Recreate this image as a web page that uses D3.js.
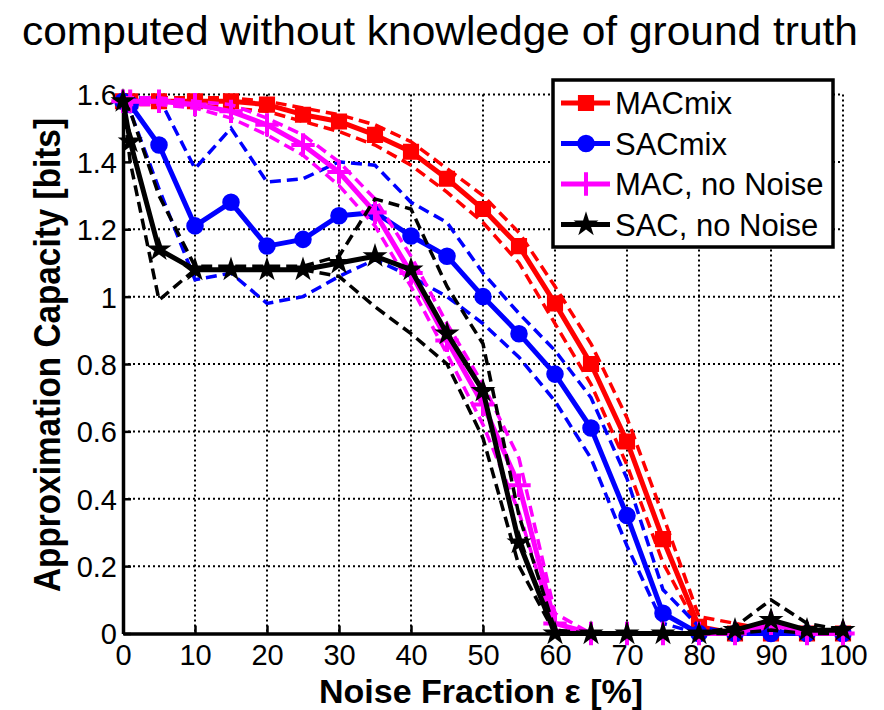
<!DOCTYPE html>
<html>
<head>
<meta charset="utf-8">
<script src="https://cdn.jsdelivr.net/npm/d3@7"></script>
<style>
  body { margin: 0; background: #fff; }
  svg { display: block; font-family: Arial, 'Liberation Sans', sans-serif; }
</style>
</head>
<body>
<div id="chart"></div>
<script>
'use strict';

// noise fraction in percent
var noise = [0, 1, 5, 10, 15, 20, 25, 30, 35, 40, 45, 50, 55, 60, 65, 70, 75, 80, 85, 90, 95, 100];

// MACmix
var macMix   = [1.58, 1.58, 1.58, 1.58, 1.58, 1.57, 1.54, 1.52, 1.48, 1.43, 1.35, 1.26, 1.15, 0.98, 0.80, 0.57, 0.28, 0.02, 0.00, 0.00, 0.00, 0.00];
var macMixHi = [1.59, 1.59, 1.59, 1.59, 1.59, 1.58, 1.56, 1.54, 1.51, 1.46, 1.38, 1.30, 1.19, 1.03, 0.86, 0.64, 0.35, 0.05, 0.03, 0.01, 0.01, 0.01];
var macMixLo = [1.58, 1.57, 1.57, 1.57, 1.56, 1.55, 1.52, 1.49, 1.45, 1.39, 1.31, 1.22, 1.10, 0.92, 0.74, 0.50, 0.21, 0.01, 0.00, 0.00, 0.00, 0.00];

// SACmix
var sacMix   = [1.58, 1.57, 1.45, 1.21, 1.28, 1.15, 1.17, 1.24, 1.25, 1.18, 1.12, 1.00, 0.89, 0.77, 0.61, 0.35, 0.06, 0.00, 0.00, 0.00, 0.00, 0.00];
var sacMixHi = [1.58, 1.59, 1.59, 1.38, 1.50, 1.34, 1.35, 1.40, 1.39, 1.28, 1.22, 1.07, 0.95, 0.84, 0.70, 0.46, 0.13, 0.02, 0.00, 0.01, 0.00, 0.00];
var sacMixLo = [1.58, 1.55, 1.32, 1.05, 1.07, 0.98, 1.00, 1.06, 1.11, 1.06, 1.00, 0.92, 0.82, 0.69, 0.52, 0.26, 0.03, 0.00, 0.00, 0.00, 0.00, 0.00];

// MAC, no Noise
var macNo   = [1.58, 1.58, 1.58, 1.57, 1.55, 1.51, 1.45, 1.37, 1.25, 1.07, 0.87, 0.68, 0.44, 0.03, 0.00, 0.00, 0.00, 0.00, 0.00, 0.03, 0.00, 0.00];
var macNoHi = [1.59, 1.59, 1.59, 1.58, 1.57, 1.53, 1.48, 1.40, 1.29, 1.12, 0.92, 0.74, 0.52, 0.06, 0.00, 0.00, 0.00, 0.00, 0.00, 0.04, 0.01, 0.00];
var macNoLo = [1.58, 1.57, 1.57, 1.56, 1.53, 1.48, 1.42, 1.33, 1.21, 1.03, 0.83, 0.62, 0.36, 0.01, 0.00, 0.00, 0.00, 0.00, 0.00, 0.02, 0.00, 0.00];

// SAC, no Noise
var sacNo   = [1.58, 1.46, 1.14, 1.08, 1.08, 1.08, 1.08, 1.10, 1.12, 1.08, 0.89, 0.72, 0.27, 0.00, 0.00, 0.00, 0.00, 0.00, 0.01, 0.04, 0.01, 0.01];
var sacNoHi = [1.58, 1.55, 1.30, 1.09, 1.09, 1.09, 1.09, 1.12, 1.29, 1.26, 1.03, 0.86, 0.35, 0.01, 0.00, 0.00, 0.00, 0.00, 0.02, 0.10, 0.03, 0.01];
var sacNoLo = [1.58, 1.40, 0.99, 1.08, 1.08, 1.08, 1.08, 1.06, 0.97, 0.89, 0.80, 0.58, 0.20, 0.00, 0.00, 0.00, 0.00, 0.00, 0.00, 0.01, 0.00, 0.00];

var xTicks = [0, 10, 20, 30, 40, 50, 60, 70, 80, 90, 100];
var yTicks = [0, 0.2, 0.4, 0.6, 0.8, 1, 1.2, 1.4, 1.6];

var series = [
  { name: 'MACmix',        color: '#ff0000', marker: 'square', mean: macMix, hi: macMixHi, lo: macMixLo },
  { name: 'SACmix',        color: '#0000ff', marker: 'circle', mean: sacMix, hi: sacMixHi, lo: sacMixLo },
  { name: 'MAC, no Noise', color: '#ff00ff', marker: 'plus',   mean: macNo,  hi: macNoHi,  lo: macNoLo },
  { name: 'SAC, no Noise', color: '#000000', marker: 'star',   mean: sacNo,  hi: sacNoHi,  lo: sacNoLo }
];

var width = 884,
    height = 710,
    plotL = 123, plotR = 843, plotT = 94.5, plotB = 633.5;

var x = d3.scaleLinear().domain([0, 100]).range([plotL, plotR]);
var y = d3.scaleLinear().domain([0, 1.6]).range([plotB, plotT]);

var svg = d3.select('#chart').append('svg')
    .attr('width', width)
    .attr('height', height);

// title
svg.append('text')
    .attr('x', 440).attr('y', 45)
    .attr('text-anchor', 'middle')
    .attr('font-size', 40)
    .attr('textLength', 836)
    .attr('lengthAdjust', 'spacingAndGlyphs')
    .text('computed without knowledge of ground truth');

// dotted grid
var grid = svg.append('g').attr('stroke', '#000').attr('stroke-width', 2).attr('stroke-dasharray', '2,3');
grid.selectAll('.vx').data(xTicks.slice(1)).enter().append('line')
    .attr('x1', function(d) { return x(d); }).attr('x2', function(d) { return x(d); })
    .attr('y1', plotT).attr('y2', plotB);
grid.selectAll('.hy').data(yTicks.slice(1)).enter().append('line')
    .attr('x1', plotL).attr('x2', plotR)
    .attr('y1', function(d) { return y(d); }).attr('y2', function(d) { return y(d); });

// axes
var fmt = d3.format('~g');
var yAxis = svg.append('g')
    .attr('transform', 'translate(' + plotL + ',0)')
    .call(d3.axisLeft(y).tickValues(yTicks).tickSizeInner(-8).tickSizeOuter(0).tickPadding(6)
      .tickFormat(function(d) { return fmt(+d.toFixed(1)); }));
var xAxis = svg.append('g')
    .attr('transform', 'translate(0,' + plotB + ')')
    .call(d3.axisBottom(x).tickValues(xTicks).tickSizeInner(-8).tickSizeOuter(0).tickPadding(11));

[yAxis, xAxis].forEach(function(ax) {
  ax.select('.domain').attr('stroke-width', 3.5);
  ax.selectAll('.tick line').attr('stroke-width', 2.5);
  ax.selectAll('.tick text').attr('font-size', 29).attr('font-family', 'Arial, Liberation Sans, sans-serif').attr('fill', '#000');
});
yAxis.selectAll('.tick text').attr('dy', '0.36em');

// axis labels
svg.append('text')
    .attr('transform', 'translate(60,355) rotate(-90)')
    .attr('text-anchor', 'middle')
    .attr('font-size', 36).attr('font-weight', 'bold')
    .attr('textLength', 474).attr('lengthAdjust', 'spacingAndGlyphs')
    .text('Approximation Capacity [bits]');

svg.append('text')
    .attr('x', 481).attr('y', 703)
    .attr('text-anchor', 'middle')
    .attr('font-size', 34).attr('font-weight', 'bold')
    .text('Noise Fraction ε [%]');

// data
var line = d3.line()
    .x(function(d, i) { return x(noise[i]); })
    .y(function(d) { return y(d); });

function symbolFor(s) {
  if (s.marker === 'square') return d3.symbol().type(d3.symbolSquare).size(200)();
  if (s.marker === 'circle') return d3.symbol().type(d3.symbolCircle).size(190)();
  if (s.marker === 'plus') return d3.symbol().type(d3.symbolPlus).size(180)();
  return d3.symbol().type(d3.symbolStar).size(110)();
}

function styleMarker(sel, s) {
  if (s.marker === 'plus') {
    sel.attr('fill', 'none').attr('stroke', s.color).attr('stroke-width', 4);
  } else {
    sel.attr('fill', s.color).attr('stroke', s.color).attr('stroke-width', 2);
  }
}

series.forEach(function(s) {
  var g = svg.append('g');
  [s.hi, s.lo].forEach(function(b) {
    g.append('path')
        .attr('d', line(b))
        .attr('fill', 'none')
        .attr('stroke', s.color)
        .attr('stroke-width', 3.5)
        .attr('stroke-dasharray', '11,6');
  });
  g.append('path')
      .attr('d', line(s.mean))
      .attr('fill', 'none')
      .attr('stroke', s.color)
      .attr('stroke-width', 5)
      .attr('stroke-linejoin', 'round');
  g.selectAll('.m').data(s.mean).enter().append('path')
      .attr('transform', function(d, i) { return 'translate(' + x(noise[i]) + ',' + y(d) + ')'; })
      .attr('d', symbolFor(s))
      .call(styleMarker, s);
});

// legend
var lg = svg.append('g');
lg.append('rect')
    .attr('x', 553).attr('y', 80).attr('width', 280).attr('height', 167)
    .attr('fill', '#fff').attr('stroke', '#000').attr('stroke-width', 3.5);
series.forEach(function(s, i) {
  var cy = 103 + i * 40.5;
  lg.append('line')
      .attr('x1', 561).attr('x2', 610).attr('y1', cy).attr('y2', cy)
      .attr('stroke', s.color).attr('stroke-width', 5);
  lg.append('path')
      .attr('transform', 'translate(586,' + cy + ')')
      .attr('d', symbolFor(s))
      .call(styleMarker, s);
  lg.append('text')
      .attr('x', 615).attr('y', cy + 11)
      .attr('font-size', 31)
      .text(s.name);
});
</script>
</body>
</html>
